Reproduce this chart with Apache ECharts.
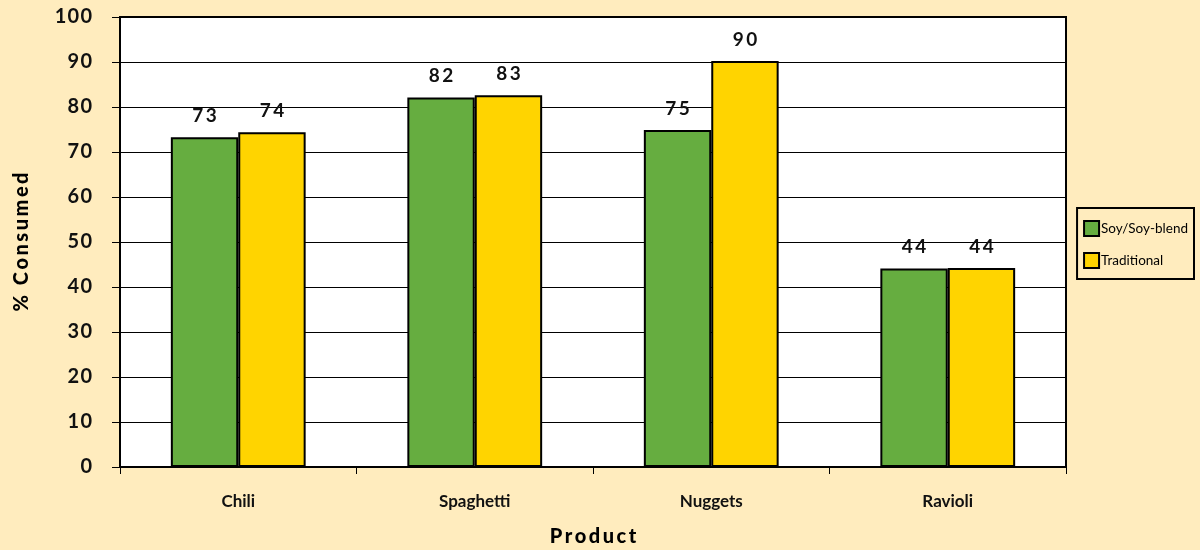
<!DOCTYPE html>
<html><head><meta charset="utf-8">
<script src="https://cdn.jsdelivr.net/npm/echarts@6/dist/echarts.min.js"></script>
<style>html,body{margin:0;padding:0;background:#FFECBE;}#c{width:1200px;height:550px;}</style>
</head><body><div id="c"></div>
<script>
const categories = ['Chili', 'Spaghetti', 'Nuggets', 'Ravioli'];
const soyValues = [73.3, 82.1, 74.9, 44.1];
const traditionalValues = [74.4, 82.6, 90.2, 44.2];
const yTicks = [0, 10, 20, 30, 40, 50, 60, 70, 80, 90, 100];

const spaced = (s, sp) => String(s).split('').join(sp);
const chart = echarts.init(document.getElementById('c'));
const labelCfg = {
  show: true, position: 'top', distance: 12, color: '#111', fontFamily: 'Lato',
  fontWeight: 'bold', fontSize: 19,
  formatter: p => spaced(Math.round(p.value), '\u2009')
};
chart.setOption({
  backgroundColor: '#FFECBE',
  animation: false,
  grid: { left: 120, right: 134, top: 17, bottom: 83, outerBoundsMode: 'none', show: true, backgroundColor: '#fff', borderColor: '#000', borderWidth: 2 },
  legend: {
    orient: 'vertical', right: 6, top: 208, padding: [12, 6, 10, 6], itemGap: 15,
    backgroundColor: '#FFECBE', borderColor: '#000', borderWidth: 2,
    itemWidth: 15, itemHeight: 15, icon: 'rect',
    textStyle: { fontFamily: 'Lato', fontSize: 13.5, color: '#000', padding: [0, 0, 0, -3] },
    data: ['Soy/Soy-blend', 'Traditional']
  },
  xAxis: {
    type: 'category', data: categories,
    name: spaced('Product', '\u2009'), nameLocation: 'middle', nameGap: 60,
    nameTextStyle: { fontFamily: 'Lato', fontWeight: 900, fontSize: 20, color: '#000' },
    axisLine: { lineStyle: { color: '#000', width: 2 } },
    axisTick: { show: true, length: 7, lineStyle: { color: '#000' } },
    axisLabel: { fontFamily: 'Lato', fontSize: 17, fontWeight: 'bold', color: '#111', margin: 26 }
  },
  yAxis: {
    type: 'value', min: 0, max: 100, interval: 10,
    name: spaced('% Consumed', '\u2009'), nameLocation: 'middle', nameGap: 88, nameRotate: 90,
    nameTextStyle: { fontFamily: 'Lato', fontWeight: 900, fontSize: 20, color: '#000' },
    axisLine: { show: true, lineStyle: { color: '#000', width: 2 } },
    axisTick: { show: true, length: 8, lineStyle: { color: '#000' } },
    splitLine: { lineStyle: { color: '#000', width: 1 } },
    axisLabel: { fontFamily: 'Lato', fontSize: 20, fontWeight: 'bold', color: '#111', margin: 28,
      formatter: v => yTicks.includes(v) ? spaced(v, '\u200A') : '' }
  },
  series: [
    { name: 'Soy/Soy-blend', type: 'bar', data: soyValues, barGap: '0%', barCategoryGap: '43%',
      itemStyle: { color: '#66AD40', borderColor: '#000', borderWidth: 2 }, label: labelCfg },
    { name: 'Traditional', type: 'bar', data: traditionalValues,
      itemStyle: { color: '#FFD400', borderColor: '#000', borderWidth: 2 }, label: labelCfg }
  ]
});
</script></body></html>
